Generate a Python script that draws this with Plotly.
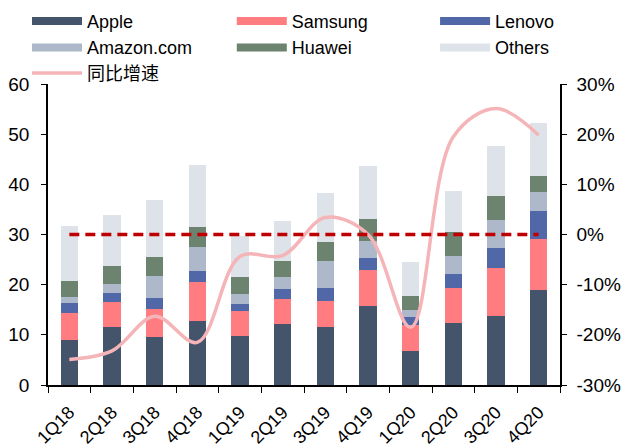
import plotly.graph_objects as go
from plotly.subplots import make_subplots

# quarterly shipments by vendor (left axis) and YoY growth in % (right axis)
quarters = ["1Q18", "2Q18", "3Q18", "4Q18", "1Q19", "2Q19",
            "3Q19", "4Q19", "1Q20", "2Q20", "3Q20", "4Q20"]
apple = [9.0, 11.5, 9.6, 12.7, 9.8, 12.2, 11.6, 15.8, 6.8, 12.3, 13.7, 18.9]
samsung = [5.4, 5.1, 5.5, 7.8, 4.9, 5.0, 5.2, 7.1, 5.2, 7.1, 9.6, 10.2]
lenovo = [2.0, 1.8, 2.2, 2.2, 1.5, 1.9, 2.5, 2.4, 1.5, 2.8, 4.1, 5.6]
amazon = [1.2, 1.7, 4.5, 4.9, 1.9, 2.4, 5.5, 3.4, 1.4, 3.6, 5.4, 3.7]
huawei = [3.2, 3.6, 3.7, 3.9, 3.4, 3.3, 3.7, 4.4, 2.9, 4.7, 4.8, 3.2]
others = [10.9, 10.1, 11.4, 12.3, 8.2, 7.9, 9.7, 10.5, 6.8, 8.1, 10.0, 10.6]
growth = [-24.9, -23.2, -16.3, -21.5, -4.4, -4.2, 3.4, 0.0, -18.5, 19.5, 25.1, 19.8]

# right axis ticks (plain hyphen as in the source)
pct_ticks = [-0.3, -0.2, -0.1, 0.0, 0.1, 0.2, 0.3]
pct_labels = ["-30%", "-20%", "-10%", "0%", "10%", "20%", "30%"]

# name, values, colour, legend column
series = [
    ("Apple", apple, "#44546A", "legend"),
    ("Samsung", samsung, "#FF7C80", "legend2"),
    ("Lenovo", lenovo, "#5068A8", "legend3"),
    ("Amazon.com", amazon, "#ADB9CA", "legend"),
    ("Huawei", huawei, "#6C8370", "legend2"),
    ("Others", others, "#DEE3EA", "legend3"),
]

font = "Liberation Sans, Arial, Noto Sans CJK SC, sans-serif"

fig = make_subplots(specs=[[{"secondary_y": True}]])

for name, vals, color, leg in series:
    fig.add_trace(go.Bar(x=quarters, y=vals, name=name, marker_color=color,
                         marker_line_width=0, width=0.4, showlegend=False),
                  secondary_y=False)

# wide swatches for the legend
for name, vals, color, leg in series:
    fig.add_trace(go.Scatter(x=[None], y=[None], mode="lines", name=name,
                             legend=leg, line=dict(color=color, width=8)),
                  secondary_y=False)

fig.add_trace(go.Scatter(x=quarters, y=[g / 100 for g in growth], name="同比增速",
                         legend="legend4",
                         mode="lines", line=dict(color="#F5B5B8", width=3.5,
                                                  shape="spline", smoothing=1.0)),
              secondary_y=True)

fig.add_trace(go.Scatter(x=[quarters[0], quarters[-1]], y=[0, 0], mode="lines",
                         line=dict(color="#C00000", width=3.5, dash="10px,6px"),
                         showlegend=False),
              secondary_y=True)

leg_common = dict(orientation="v", xanchor="left", yanchor="top",
                  itemwidth=50, tracegroupgap=0, bgcolor="rgba(0,0,0,0)",
                  font=dict(size=18), traceorder="normal")
top_row = dict(yref="container", y=0.9938, **leg_common)

fig.update_layout(
    width=640, height=448,
    barmode="stack",
    paper_bgcolor="white", plot_bgcolor="white",
    margin=dict(l=48, r=80, t=84, b=63),
    font=dict(family=font, size=19, color="black"),
    legend=dict(x=-0.041, **top_row),
    legend2=dict(x=0.359, **top_row),
    legend3=dict(x=0.756, **top_row),
    legend4=dict(x=-0.041, y=1.097, **leg_common),
)

fig.update_xaxes(domain=[0, 1], showline=True, linecolor="black", linewidth=1.5,
                 ticks="outside", tickson="boundaries", ticklen=6, tickcolor="black",
                 tickangle=-45, tickfont=dict(size=18), ticklabelstandoff=8,
                 showgrid=False, automargin=False)
fig.update_yaxes(range=[0, 60], dtick=10, showline=True, linecolor="black",
                 linewidth=1.5, ticks="outside", ticklen=5, tickcolor="black",
                 showgrid=False, zeroline=False, tickfont=dict(size=19),
                 ticklabelstandoff=8, automargin=False, secondary_y=False)
fig.update_yaxes(range=[-0.3, 0.3], tickvals=pct_ticks, ticktext=pct_labels,
                 showline=True, linecolor="black", linewidth=1.5, ticks="outside",
                 ticklen=5, tickcolor="black", showgrid=False, zeroline=False,
                 tickfont=dict(size=19), ticklabelstandoff=6, automargin=False,
                 secondary_y=True)

# drop the default page margin so the figure sits at the window's corner
fig.write_html("out.html", config={"displayModeBar": False},
               post_script="document.body.style.margin = '0';")
